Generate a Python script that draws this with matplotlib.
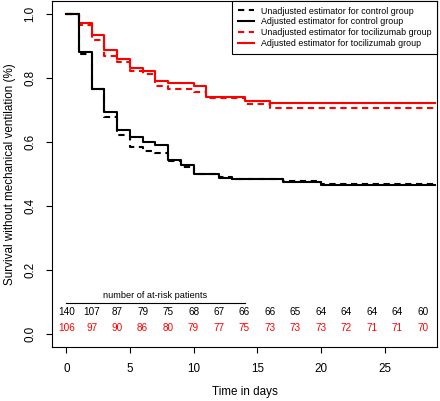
import matplotlib
matplotlib.use("Agg")
import matplotlib.pyplot as plt
from matplotlib.lines import Line2D

plt.rcParams['font.family'] = ['Liberation Sans', 'DejaVu Sans']

# Step curves (time, survival) - value holds from the time until next time
ctrl_adj_t = [0, 1, 2, 3, 4, 5, 6, 7, 8, 9, 10, 12, 13, 17, 20, 29]
ctrl_adj_s = [1.0, 0.882, 0.765, 0.692, 0.638, 0.614, 0.601, 0.592, 0.543, 0.528, 0.500, 0.489, 0.483, 0.475, 0.467, 0.467]

ctrl_unadj_t = [0, 1, 2, 3, 4, 5, 6, 7, 8, 9, 10, 12, 13, 17, 20, 29]
ctrl_unadj_s = [1.0, 0.874, 0.764, 0.677, 0.622, 0.584, 0.572, 0.564, 0.542, 0.523, 0.500, 0.490, 0.485, 0.477, 0.468, 0.468]

toci_adj_t = [0, 1, 2, 3, 4, 5, 6, 7, 8, 10, 11, 14, 16, 29]
toci_adj_s = [1.0, 0.971, 0.935, 0.888, 0.860, 0.831, 0.823, 0.790, 0.785, 0.776, 0.741, 0.728, 0.722, 0.722]

toci_unadj_t = [0, 1, 2, 3, 4, 5, 6, 7, 8, 10, 11, 14, 16, 29]
toci_unadj_s = [1.0, 0.966, 0.917, 0.869, 0.850, 0.822, 0.811, 0.774, 0.765, 0.755, 0.736, 0.718, 0.707, 0.707]

# at-risk table
risk_times = [0, 2, 4, 6, 8, 10, 12, 14, 16, 18, 20, 22, 24, 26, 28]
risk_ctrl = [140, 107, 87, 79, 75, 68, 67, 66, 66, 65, 64, 64, 64, 64, 60]
risk_toci = [106, 97, 90, 86, 80, 79, 77, 75, 73, 73, 73, 72, 71, 71, 70]

x_ticks = [0, 5, 10, 15, 20, 25]
y_ticks = [0.0, 0.2, 0.4, 0.6, 0.8, 1.0]

RED = '#FF0000'
dash = (3.0, 2.2)

fig = plt.figure(figsize=(4.40, 4.01), dpi=100)
ax = fig.add_axes([52/440, 1 - 347/401, 385/440, 346/401])

lw = 1.5
ax.step(toci_unadj_t, toci_unadj_s, where='post', color=RED, lw=lw, dashes=dash)
ax.step(toci_adj_t, toci_adj_s, where='post', color=RED, lw=lw)
ax.step(ctrl_unadj_t, ctrl_unadj_s, where='post', color='black', lw=lw, dashes=dash)
ax.step(ctrl_adj_t, ctrl_adj_s, where='post', color='black', lw=lw)

ax.set_xlim(-1.12, 29.12)
ax.set_ylim(-0.04, 1.04)
ax.set_xticks(x_ticks)
ax.set_xticklabels([str(v) for v in x_ticks], fontsize=8.4)
ax.set_yticks(y_ticks)
ax.set_yticklabels([f"{v:.1f}" for v in y_ticks], fontsize=8.4, rotation=90, va='center')
ax.tick_params(length=4.5, width=0.8, pad=7)
for s in ax.spines.values():
    s.set_linewidth(0.8)

ax.set_xlabel('Time in days', fontsize=8.4, labelpad=8)
ax.set_ylabel('Survival without mechanical ventilation (%)', fontsize=8.4, labelpad=6)

# at-risk table
for t, c, r in zip(risk_times, risk_ctrl, risk_toci):
    ax.text(t, 0.069, str(c), ha='center', va='center', fontsize=7.2, color='black')
    ax.text(t, 0.019, str(r), ha='center', va='center', fontsize=7.2, color=RED)
ax.plot([0, 14], [0.097, 0.097], color='black', lw=0.8)
ax.text(7, 0.121, 'number of at-risk patients', ha='center', va='center', fontsize=6.6)

handles = [
    Line2D([], [], color='black', lw=lw, dashes=dash),
    Line2D([], [], color='black', lw=lw),
    Line2D([], [], color=RED, lw=lw, dashes=dash),
    Line2D([], [], color=RED, lw=lw),
]
labels = ['Unadjusted estimator for control group',
          'Adjusted estimator for control group',
          'Unadjusted estimator for tocilizumab group',
          'Adjusted estimator for tocilizumab group']
leg = ax.legend(handles, labels, loc='upper right', fontsize=6.4, frameon=True,
                fancybox=False, framealpha=1, edgecolor='black', borderaxespad=0,
                handlelength=1.8, handletextpad=0.8, labelspacing=0.22,
                borderpad=0.62)
leg.get_frame().set_linewidth(0.8)

fig.savefig('out.png', dpi=100)
